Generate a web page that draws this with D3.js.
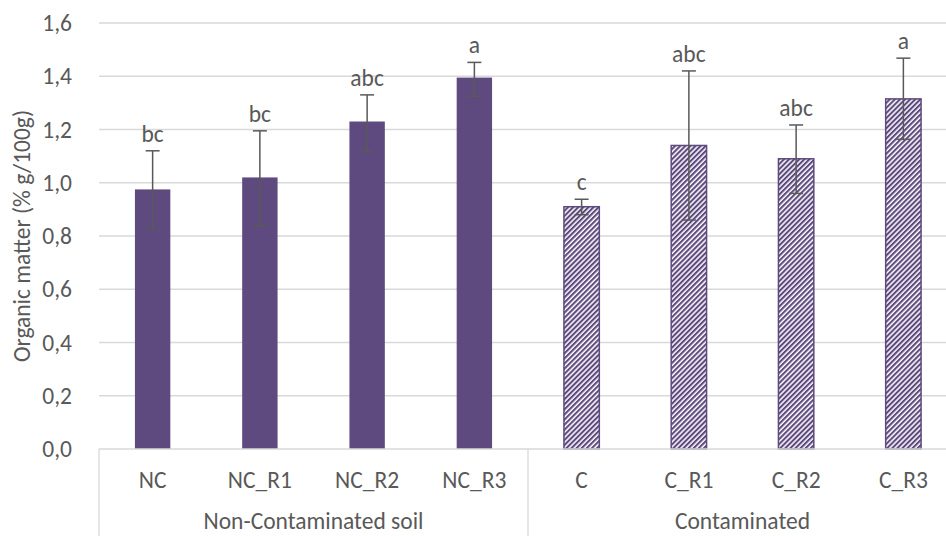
<!DOCTYPE html>
<html>
<head>
<meta charset="utf-8">
<script src="https://cdn.jsdelivr.net/npm/d3@7"></script>
<style>
  body { margin: 0; background: #fff; }
  svg text { font-family: Carlito, "Open Sans", sans-serif; fill: #595959; }
</style>
</head>
<body>
<svg id="chart"></svg>
<script>
// values
const categories = ["NC", "NC_R1", "NC_R2", "NC_R3", "C", "C_R1", "C_R2", "C_R3"];
const groups = ["Non-Contaminated soil", "Contaminated"];
const groupOf = [0, 0, 0, 0, 1, 1, 1, 1];
const means = [0.975, 1.02, 1.23, 1.395, 0.91, 1.14, 1.09, 1.315];
const errLow = [0.83, 0.84, 1.12, 1.325, 0.88, 0.86, 0.96, 1.163];
const errHigh = [1.12, 1.195, 1.33, 1.452, 0.938, 1.42, 1.217, 1.468];
const letters = ["bc", "bc", "abc", "a", "c", "abc", "abc", "a"];
const yTicks = [0, 0.2, 0.4, 0.6, 0.8, 1.0, 1.2, 1.4, 1.6];

const width = 946;
const height = 536;
const margin = {top: 23, right: -11, bottom: 87, left: 99};
const purple = "#5e4a7e";
const fs = 23.5;

const svg = d3.select("#chart")
  .attr("width", width)
  .attr("height", height);

const defs = svg.append("defs");
const pat = defs.append("pattern")
  .attr("id", "hatch")
  .attr("patternUnits", "userSpaceOnUse")
  .attr("width", 3.6)
  .attr("height", 6)
  .attr("patternTransform", "rotate(45)");
pat.append("rect").attr("width", 3.6).attr("height", 6).attr("fill", "#fff");
pat.append("rect").attr("width", 2.1).attr("height", 6).attr("fill", purple);

const y = d3.scaleLinear()
  .domain([0, 1.6])
  .range([height - margin.bottom, margin.top]);

const x = d3.scaleBand()
  .domain(d3.range(categories.length))
  .range([margin.left, width - margin.right])
  .paddingInner(0.67)
  .paddingOuter(0.335);

const step = x.step();
const x0 = margin.left;
const y0 = y(0);

// gridlines
svg.append("g")
  .selectAll("line")
  .data(yTicks.slice(1))
  .join("line")
  .attr("x1", x0)
  .attr("x2", width)
  .attr("y1", d => y(d))
  .attr("y2", d => y(d))
  .attr("stroke", "#d9d9d9")
  .attr("stroke-width", 1.3);

// y axis labels
const yAxis = g => g
  .attr("transform", `translate(${x0 - 20},0)`)
  .call(d3.axisLeft(y).tickValues(yTicks).tickFormat(d => d3.format(".1f")(d).replace(".", ",")).tickSize(0))
  .call(g => g.select(".domain").remove())
  .call(g => g.selectAll("text").attr("font-size", fs).attr("dx", "-4").attr("font-family", null));
svg.append("g").call(yAxis);

svg.append("text")
  .attr("transform", `translate(30,${(y(0) + y(1.6)) / 2}) rotate(-90)`)
  .attr("text-anchor", "middle")
  .attr("font-size", fs)
  .text("Organic matter (% g/100g)");

// bars
svg.selectAll(".bar")
  .data(means)
  .join("rect")
  .attr("class", "bar")
  .attr("x", (d, i) => x(i))
  .attr("y", d => y(d))
  .attr("width", x.bandwidth())
  .attr("height", d => y(0) - y(d))
  .attr("fill", (d, i) => groupOf[i] === 0 ? purple : "url(#hatch)")
  .attr("stroke", (d, i) => groupOf[i] === 0 ? "none" : purple)
  .attr("stroke-width", 1.5);

// error bars
const eb = svg.append("g").attr("stroke", "#595959").attr("stroke-width", 1.5);
eb.selectAll(".v")
  .data(means)
  .join("line")
  .attr("x1", (d, i) => x(i) + x.bandwidth() / 2)
  .attr("x2", (d, i) => x(i) + x.bandwidth() / 2)
  .attr("y1", (d, i) => y(errLow[i]))
  .attr("y2", (d, i) => y(errHigh[i]));
[errLow, errHigh].forEach(arr => {
  eb.append("g").selectAll("line")
    .data(arr)
    .join("line")
    .attr("x1", (d, i) => x(i) + x.bandwidth() / 2 - 7)
    .attr("x2", (d, i) => x(i) + x.bandwidth() / 2 + 7)
    .attr("y1", d => y(d))
    .attr("y2", d => y(d));
});

// significance letters
svg.selectAll(".letter")
  .data(letters)
  .join("text")
  .attr("class", "letter")
  .attr("x", (d, i) => x(i) + x.bandwidth() / 2)
  .attr("y", (d, i) => y(errHigh[i]) - 9)
  .attr("text-anchor", "middle")
  .attr("font-size", fs)
  .text(d => d);

// category axis
svg.append("line")
  .attr("x1", x0).attr("x2", width)
  .attr("y1", y0).attr("y2", y0)
  .attr("stroke", "#d9d9d9").attr("stroke-width", 1.3);

svg.append("g")
  .selectAll("line")
  .data([0, 4, 8])
  .join("line")
  .attr("x1", d => x0 + d * step)
  .attr("x2", d => x0 + d * step)
  .attr("y1", y0)
  .attr("y2", height)
  .attr("stroke", "#d9d9d9")
  .attr("stroke-width", 1.3);

svg.selectAll(".cat")
  .data(categories)
  .join("text")
  .attr("class", "cat")
  .attr("x", (d, i) => x(i) + x.bandwidth() / 2)
  .attr("y", y0 + 39)
  .attr("text-anchor", "middle")
  .attr("font-size", fs)
  .text(d => d);

svg.selectAll(".grp")
  .data(groups)
  .join("text")
  .attr("class", "grp")
  .attr("x", (d, i) => x0 + (i * 4 + 2) * step)
  .attr("y", y0 + 80)
  .attr("text-anchor", "middle")
  .attr("font-size", fs)
  .text(d => d);
</script>
</body>
</html>
